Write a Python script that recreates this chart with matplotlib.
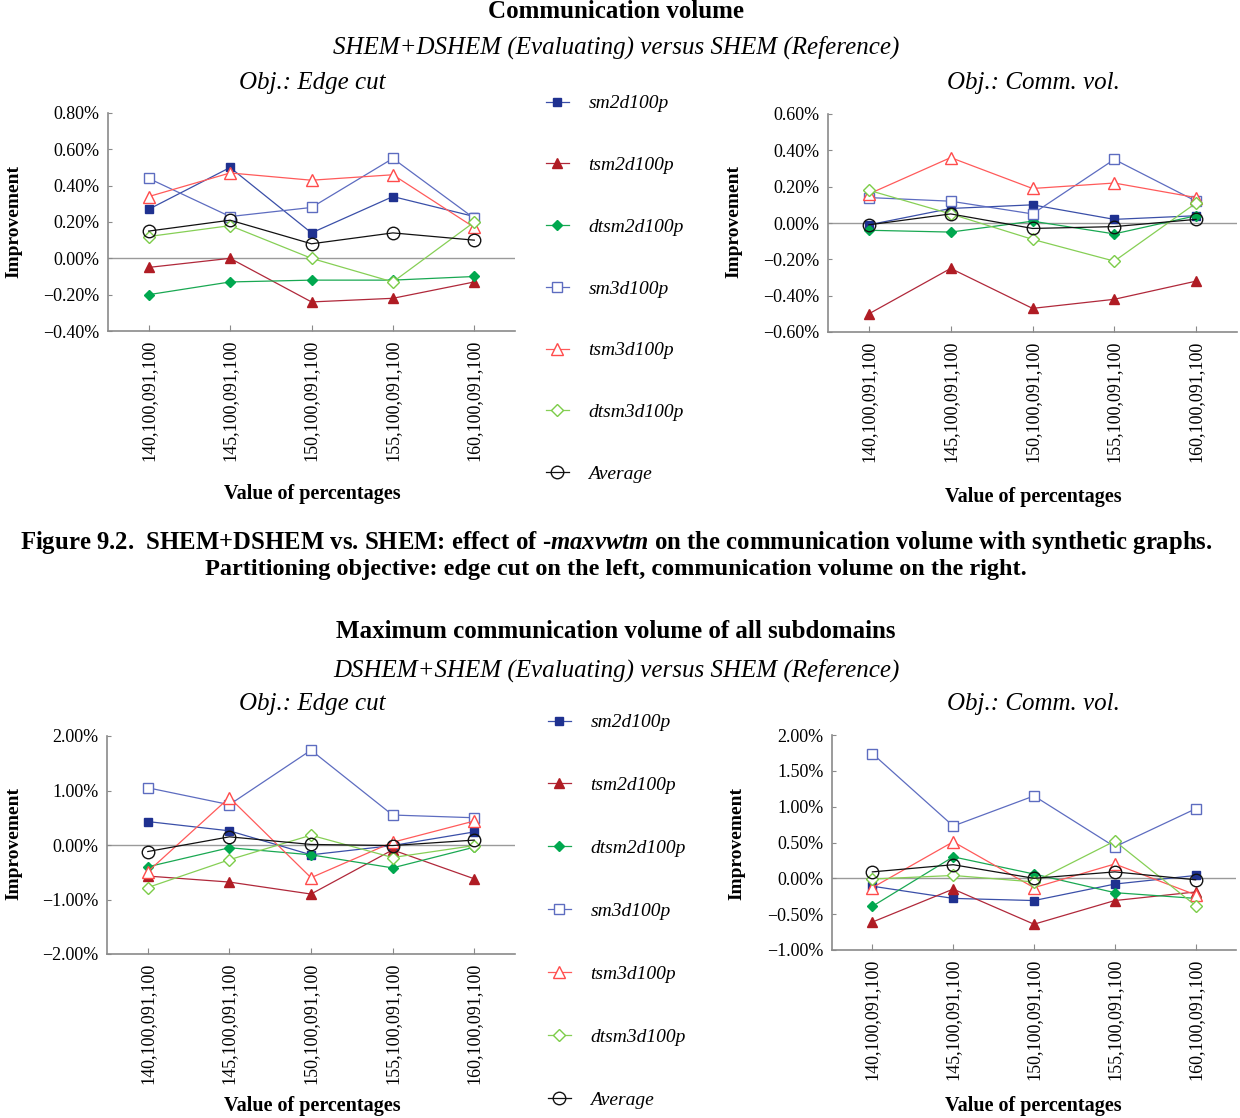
import matplotlib
matplotlib.use('Agg')
import matplotlib.pyplot as plt
import numpy as np

plt.rcParams['font.family'] = ['Liberation Serif', 'DejaVu Serif']
plt.rcParams['mathtext.fontset'] = 'custom'
plt.rcParams['mathtext.it'] = 'Liberation Serif:italic:bold'
plt.rcParams['mathtext.rm'] = 'Liberation Serif:bold'

# x categories
categories = ['140,100,091,100', '145,100,091,100', '150,100,091,100',
              '155,100,091,100', '160,100,091,100']
series_names = ['sm2d100p', 'tsm2d100p', 'dtsm2d100p', 'sm3d100p',
                'tsm3d100p', 'dtsm3d100p', 'Average']

# Communication volume, obj. edge cut (values in %)
tl_sm2d = [0.27, 0.50, 0.14, 0.34, 0.23]
tl_tsm2d = [-0.05, 0.00, -0.24, -0.22, -0.13]
tl_dtsm2d = [-0.20, -0.13, -0.12, -0.12, -0.10]
tl_sm3d = [0.44, 0.23, 0.28, 0.55, 0.22]
tl_tsm3d = [0.34, 0.47, 0.43, 0.46, 0.17]
tl_dtsm3d = [0.12, 0.18, 0.00, -0.13, 0.20]
tl_avg = [0.15, 0.21, 0.08, 0.14, 0.10]

# Communication volume, obj. comm. vol.
tr_sm2d = [-0.01, 0.08, 0.10, 0.02, 0.04]
tr_tsm2d = [-0.50, -0.25, -0.47, -0.42, -0.32]
tr_dtsm2d = [-0.04, -0.05, 0.01, -0.06, 0.04]
tr_sm3d = [0.14, 0.12, 0.05, 0.35, 0.12]
tr_tsm3d = [0.16, 0.36, 0.19, 0.22, 0.14]
tr_dtsm3d = [0.18, 0.05, -0.09, -0.21, 0.11]
tr_avg = [-0.01, 0.05, -0.03, -0.02, 0.02]

# Max communication volume, obj. edge cut
bl_sm2d = [0.43, 0.26, -0.18, -0.01, 0.24]
bl_tsm2d = [-0.57, -0.68, -0.90, -0.09, -0.62]
bl_dtsm2d = [-0.40, -0.05, -0.18, -0.42, -0.04]
bl_sm3d = [1.05, 0.74, 1.74, 0.55, 0.50]
bl_tsm3d = [-0.49, 0.87, -0.60, 0.05, 0.44]
bl_dtsm3d = [-0.78, -0.27, 0.18, -0.23, -0.01]
bl_avg = [-0.12, 0.15, 0.01, -0.01, 0.09]

# Max communication volume, obj. comm. vol.
br_sm2d = [-0.11, -0.28, -0.31, -0.08, 0.04]
br_tsm2d = [-0.61, -0.15, -0.64, -0.31, -0.19]
br_dtsm2d = [-0.39, 0.30, 0.06, -0.20, -0.28]
br_sm3d = [1.74, 0.73, 1.15, 0.44, 0.97]
br_tsm3d = [-0.13, 0.51, -0.13, 0.20, -0.23]
br_dtsm3d = [-0.01, 0.04, -0.05, 0.52, -0.38]
br_avg = [0.09, 0.19, 0.00, 0.09, -0.02]

# style per series: line colour, marker, marker face, marker edge, size
styles = [
    ('#3a4fa8', 's', '#1f3190', '#1f3190', 6),
    ('#b0283a', '^', '#b01c24', '#b01c24', 7),
    ('#19a852', 'D', '#00a84f', '#00a84f', 5.5),
    ('#5d6cc0', 's', 'white', '#5d6cc0', 6.5),
    ('#ff5a5a', '^', 'white', '#ff4b4b', 8),
    ('#86cf55', 'D', 'white', '#7ccc48', 6),
    ('#111111', 'o', 'none', '#111111', 9),
]

W, H = 1240, 1118
fig = plt.figure(figsize=(W / 100, H / 100), dpi=100)


def fx(px):
    return px / W


def fy(py):
    return 1 - py / H


def pct(v):
    return ('%.2f%%' % v).replace('-', '\u2212')


def panel(rect, data, yticks):
    l, t, r, b = rect
    ax = fig.add_axes([fx(l), fy(b), fx(r) - fx(l), fy(t) - fy(b)])
    x = np.arange(len(categories))
    ax.axhline(0, color='#9a9a9a', lw=1.0, zorder=1)
    for vals, name, st in zip(data, series_names, styles):
        ax.plot(x, vals, color=st[0], lw=0.9, marker=st[1],
                markerfacecolor=st[2], markeredgecolor=st[3],
                markersize=st[4], markeredgewidth=1.0, label=name, zorder=3)
    ax.set_xlim(-0.5, len(categories) - 0.5)
    ax.set_ylim(yticks[0], yticks[-1])
    ax.set_yticks(yticks)
    ax.set_yticklabels([pct(v) for v in yticks], fontsize=13)
    ax.set_xticks(x)
    ax.set_xticklabels(categories, rotation=90, fontsize=13)
    for s in ['top', 'right']:
        ax.spines[s].set_visible(False)
    for s in ['left', 'bottom']:
        ax.spines[s].set_color('#8a8a8a')
        ax.spines[s].set_linewidth(1.2)
    ax.tick_params(axis='x', direction='in', length=4, color='#8a8a8a', pad=6)
    ax.tick_params(axis='y', direction='in', length=3, color='#8a8a8a', pad=6)
    return ax


ax1 = panel((108, 113, 515, 331),
            [tl_sm2d, tl_tsm2d, tl_dtsm2d, tl_sm3d, tl_tsm3d, tl_dtsm3d, tl_avg],
            [-0.4, -0.2, 0.0, 0.2, 0.4, 0.6, 0.8])
ax2 = panel((828, 114, 1237, 332),
            [tr_sm2d, tr_tsm2d, tr_dtsm2d, tr_sm3d, tr_tsm3d, tr_dtsm3d, tr_avg],
            [-0.6, -0.4, -0.2, 0.0, 0.2, 0.4, 0.6])
ax3 = panel((107, 736, 515, 954),
            [bl_sm2d, bl_tsm2d, bl_dtsm2d, bl_sm3d, bl_tsm3d, bl_dtsm3d, bl_avg],
            [-2.0, -1.0, 0.0, 1.0, 2.0])
ax4 = panel((832, 735, 1236, 950),
            [br_sm2d, br_tsm2d, br_dtsm2d, br_sm3d, br_tsm3d, br_dtsm3d, br_avg],
            [-1.0, -0.5, 0.0, 0.5, 1.0, 1.5, 2.0])

# legends
h, lab = ax1.get_legend_handles_labels()
for top, xl, sp in [(85, 536, 2.27), (704, 538, 2.33)]:
    fig.legend(h, lab, loc='upper left', bbox_to_anchor=(fx(xl), fy(top)),
               frameon=False, labelspacing=sp,
               handlelength=1.2, handletextpad=1.0, borderpad=0,
               prop={'style': 'italic', 'size': 14})

# titles and labels
fig.text(fx(616), fy(12), 'Communication volume', ha='center', va='center',
         fontsize=18, fontweight='bold')
fig.text(fx(616), fy(47), 'SHEM+DSHEM (Evaluating) versus SHEM (Reference)',
         ha='center', va='center', fontsize=18, style='italic')
fig.text(fx(616), fy(632), 'Maximum communication volume of all subdomains',
         ha='center', va='center', fontsize=18, fontweight='bold')
fig.text(fx(616), fy(670), 'DSHEM+SHEM (Evaluating) versus SHEM (Reference)',
         ha='center', va='center', fontsize=18, style='italic')
for yy in [83, 704]:
    fig.text(fx(312), fy(yy), 'Obj.: Edge cut', ha='center', va='center',
             fontsize=18, style='italic')
    fig.text(fx(1033), fy(yy), 'Obj.: Comm. vol.', ha='center', va='center',
             fontsize=18, style='italic')

for xx, yy in [(14, 222), (734, 222), (14, 843), (737, 843)]:
    fig.text(fx(xx), fy(yy), 'Improvement', ha='center', va='center',
             rotation=90, fontsize=14, fontweight='bold')
for xx, yy in [(312, 494), (1033, 497), (312, 1106), (1033, 1106)]:
    fig.text(fx(xx), fy(yy), 'Value of percentages', ha='center', va='center',
             fontsize=14.5, fontweight='bold')

fig.text(fx(616), fy(542),
         'Figure 9.2.  SHEM+DSHEM vs. SHEM: effect of -$\\mathit{maxvwtm}$ on the '
         'communication volume with synthetic graphs.',
         ha='center', va='center', fontsize=17.8, fontweight='bold')
fig.text(fx(616), fy(570),
         'Partitioning objective: edge cut on the left, communication volume on the right.',
         ha='center', va='center', fontsize=17.5, fontweight='bold')

fig.savefig('out.png', dpi=100)
